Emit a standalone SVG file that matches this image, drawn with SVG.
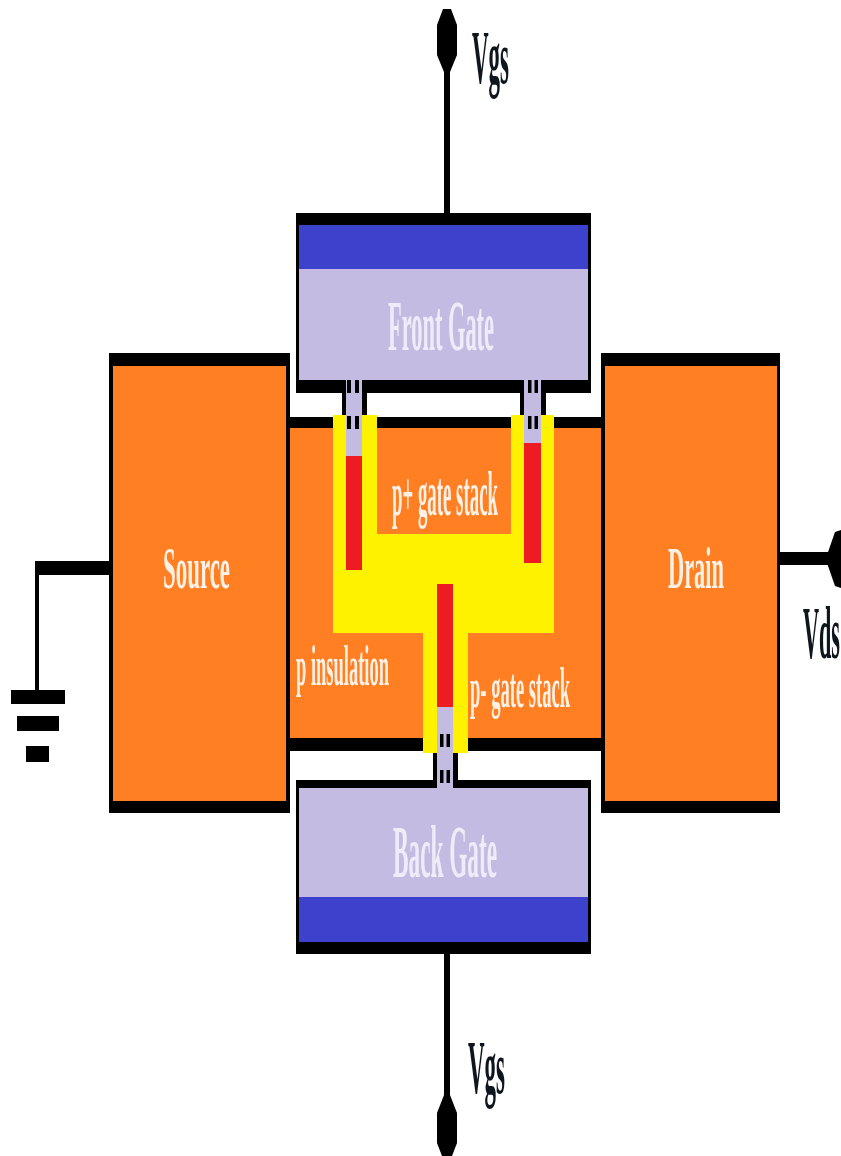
<svg xmlns="http://www.w3.org/2000/svg" width="841" height="1156" viewBox="0 0 841 1156">
<style>
.k{fill:#000}
.o{fill:#FF7F22}
.l{fill:#C4BBE2}
.b{fill:#3D42CC}
.y{fill:#FFF200}
.r{fill:#ED1C24}
text{font-family:"Liberation Serif","Times New Roman",serif;font-size:24px;font-weight:700}
.w{fill:#FDF1E6}
.g{fill:#EFEBF8}
.d{fill:#10131F}
</style>
<defs>
<g id="dots-wide"><rect x="0" y="0" width="4" height="13" class="k"/><rect x="8" y="0" width="4" height="13" class="k"/></g>
<g id="dots"><rect x="0" y="0" width="3.5" height="13" class="k"/><rect x="6.5" y="0" width="3.5" height="13" class="k"/></g>
<filter id="soft" x="0" y="0" width="100%" height="100%"><feGaussianBlur stdDeviation="0.5"/></filter>
</defs>
<rect width="841" height="1156" fill="#fff"/>
<g filter="url(#soft)">
<g id="connectors">
<rect x="444" y="60" width="6" height="155" class="k"/>
<rect x="444" y="952" width="6" height="150" class="k"/>
<rect x="35" y="561" width="76" height="14" class="k"/>
<rect x="35" y="561" width="4" height="130" class="k"/>
<rect x="778" y="552" width="52" height="13" class="k"/>
</g>
<g id="terminal-top"><polygon class="k" points="443,9 451,9 457,25 457,55 450,72 444,72 437,55 437,25"/></g>
<g id="terminal-bottom"><polygon class="k" points="444,1095 450,1095 457,1113 457,1143 452,1156 442,1156 437,1143 437,1113"/></g>
<g id="terminal-right"><polygon class="k" points="841,530 835,532 827,555 827,563 835,586 841,588"/></g>
<g id="ground">
<rect x="11" y="690" width="54" height="14" class="k"/>
<rect x="17" y="716" width="42" height="15" class="k"/>
<rect x="26" y="746" width="23" height="16" class="k"/>
</g>
<g id="source">
<rect x="109" y="353" width="181" height="460" class="k"/>
<rect x="113" y="366" width="173" height="435" class="o"/>
</g>
<g id="drain">
<rect x="601" y="353" width="179" height="460" class="k"/>
<rect x="605" y="366" width="172" height="435" class="o"/>
</g>
<g id="channel">
<rect x="290" y="417" width="311" height="334" class="k"/>
<rect x="290" y="428" width="311" height="310" class="o"/>
<rect x="333" y="415" width="44" height="218" class="y"/>
<rect x="511" y="415" width="43" height="218" class="y"/>
<rect x="333" y="534" width="221" height="99" class="y"/>
<rect x="423" y="630" width="45" height="123" class="y"/>
</g>
<g id="front-gate">
<rect x="296" y="213" width="295" height="180" class="k"/>
<rect x="299" y="225" width="289" height="44" class="b"/>
<rect x="299" y="269" width="289" height="111" class="l"/>
</g>
<g id="back-gate">
<rect x="296" y="780" width="295" height="174" class="k"/>
<rect x="299" y="788" width="289" height="109" class="l"/>
<rect x="299" y="897" width="289" height="45" class="b"/>
</g>
<g id="stem-left">
<rect x="342" y="393" width="25" height="22" class="k"/>
<rect x="346" y="380" width="16" height="76" class="l"/>
<rect x="346" y="456" width="16" height="114" class="r"/>
<use href="#dots-wide" x="347" y="380"/>
<use href="#dots-wide" x="347" y="416"/>
</g>
<g id="stem-right">
<rect x="520" y="393" width="26" height="22" class="k"/>
<rect x="524" y="380" width="17" height="63" class="l"/>
<rect x="524" y="443" width="17" height="120" class="r"/>
<use href="#dots" x="528" y="380"/>
<use href="#dots" x="528" y="416"/>
</g>
<g id="stem-bottom">
<rect x="433" y="753" width="25" height="32" class="k"/>
<rect x="437" y="707" width="16" height="81" class="l"/>
<rect x="437" y="584" width="16" height="123" class="r"/>
<use href="#dots" x="440" y="734"/>
<use href="#dots" x="440" y="770"/>
</g>
<g id="labels">
<text class="d" transform="translate(472,83) scale(1,3.15)" textLength="37" lengthAdjust="spacingAndGlyphs">Vgs</text>
<text class="d" transform="translate(468,1093) scale(1,3.15)" textLength="37" lengthAdjust="spacingAndGlyphs">Vgs</text>
<text class="d" transform="translate(803,658) scale(1,3.1)" textLength="37" lengthAdjust="spacingAndGlyphs">Vds</text>
<text class="w" transform="translate(163,588) scale(1,2.5)" textLength="67" lengthAdjust="spacingAndGlyphs">Source</text>
<text class="w" transform="translate(668,588) scale(1,2.5)" textLength="56" lengthAdjust="spacingAndGlyphs">Drain</text>
<text class="g" transform="translate(388,350) scale(1,3)" textLength="106" lengthAdjust="spacingAndGlyphs">Front Gate</text>
<text class="g" transform="translate(393,877) scale(1,3.1)" textLength="104" lengthAdjust="spacingAndGlyphs">Back Gate</text>
<text class="w" transform="translate(392,515) scale(1,2.6)" textLength="106" lengthAdjust="spacingAndGlyphs">p+ gate stack</text>
<text class="w" transform="translate(296,685) scale(1,2.4)" textLength="93" lengthAdjust="spacingAndGlyphs">p insulation</text>
<text class="w" transform="translate(470,707) scale(1,2.4)" textLength="100" lengthAdjust="spacingAndGlyphs">p- gate stack</text>
</g>
</g>
</svg>
